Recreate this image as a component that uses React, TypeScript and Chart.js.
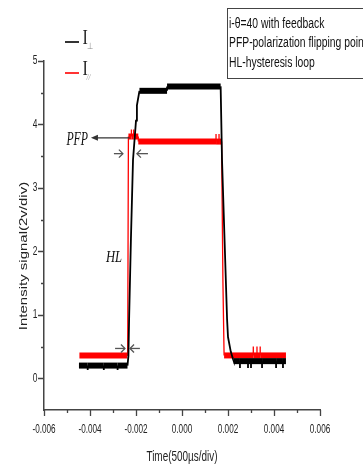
import { useEffect, useRef } from "react";
import { Chart, registerables } from "chart.js";

Chart.register(...registerables);

// Axis ticks
const xTicks = [-0.006, -0.004, -0.002, 0, 0.002, 0.004, 0.006];
const xTickLabels = ["-0.006", "-0.004", "-0.002", "0.000", "0.002", "0.004", "0.006"];
const xMinorTicks = [-0.005, -0.003, -0.001, 0.001, 0.003, 0.005];
const yTicks = [0, 1, 2, 3, 4, 5];
const yTickLabels = ["0", "1", "2", "3", "4", "5"];
const yMinorTicks = [0.5, 1.5, 2.5, 3.5, 4.5];

// I⊥ trace (time in s, signal in 2 V/div)
const perpTime = [
  -0.00448, -0.0041, -0.0041, -0.0041, -0.0034, -0.0034, -0.0034, -0.0028, -0.0028, -0.0028,
  -0.00237, -0.00233, -0.0023, -0.00222, -0.00213, -0.002, -0.00196, -0.00185,
  -0.00065, -0.00065, 0.00168,
  0.00174, 0.00196, 0.002, 0.00212, 0.00222, 0.00225,
  0.00252, 0.00252, 0.00252, 0.00287, 0.00287, 0.00287, 0.003, 0.003, 0.003,
  0.00348, 0.00348, 0.00348, 0.00409, 0.00409, 0.00409, 0.00439, 0.00439, 0.00439, 0.00452,
];
const perpSignal = [
  0.2, 0.2, 0.13, 0.2, 0.2, 0.13, 0.2, 0.2, 0.13, 0.2,
  0.2, 0.35, 0.93, 2.2, 3.44, 4.06, 4.3, 4.53,
  4.53, 4.6, 4.6,
  3.44, 0.93, 0.65, 0.42, 0.3, 0.27,
  0.27, 0.16, 0.27, 0.27, 0.16, 0.27, 0.27, 0.16, 0.27,
  0.27, 0.16, 0.27, 0.27, 0.16, 0.27, 0.27, 0.16, 0.27, 0.27,
];

// I// trace
const parTime = [
  -0.00446, -0.00238, -0.00236, -0.00233,
  -0.0022, -0.0022, -0.0022, -0.0021, -0.0021, -0.0021, -0.0019, -0.0019,
  0.00148, 0.00148, 0.00148, 0.00161, 0.00161, 0.00161, 0.00172,
  0.00178, 0.00183,
  0.0031, 0.0031, 0.0031, 0.00326, 0.00326, 0.00326, 0.0034, 0.0034, 0.0034, 0.00452,
];
const parSignal = [
  0.36, 0.36, 0.5, 3.81,
  3.81, 3.92, 3.81, 3.81, 3.92, 3.81, 3.81, 3.73,
  3.73, 3.85, 3.73, 3.73, 3.85, 3.73, 3.73,
  1.5, 0.36,
  0.36, 0.5, 0.36, 0.36, 0.5, 0.36, 0.36, 0.5, 0.36, 0.36,
];

const infoLines = [
  "i-\u03B8=40 with feedback",
  "PFP-polarization flipping point",
  "HL-hysteresis loop",
];

const toPoints = (t: number[], v: number[]) => t.map((x, i) => ({ x, y: v[i] }));

// flat stretches are drawn as a thick noisy band, transitions and spikes as thin strokes
const bandWidth = (thick: number, thin: number) => (ctx: any) =>
  Math.abs(ctx.p0.parsed.y - ctx.p1.parsed.y) < 1e-9 ? thick : thin;

function squeezed(
  ctx: CanvasRenderingContext2D,
  text: string,
  x: number,
  y: number,
  font: string,
  sx: number,
  align: CanvasTextAlign,
  color: string
) {
  ctx.save();
  ctx.font = font;
  ctx.fillStyle = color;
  ctx.textAlign = align;
  ctx.textBaseline = "middle";
  ctx.translate(x, y);
  ctx.scale(sx, 1);
  ctx.fillText(text, 0, 0);
  ctx.restore();
}

function arrowLine(
  ctx: CanvasRenderingContext2D,
  x0: number,
  x1: number,
  y: number,
  color: string,
  filled: boolean
) {
  const dir = Math.sign(x1 - x0);
  ctx.save();
  ctx.strokeStyle = color;
  ctx.fillStyle = color;
  ctx.lineWidth = 1.3;
  ctx.beginPath();
  ctx.moveTo(x0, y);
  ctx.lineTo(x1 - (filled ? dir * 4 : 0), y);
  ctx.stroke();
  ctx.beginPath();
  if (filled) {
    ctx.moveTo(x1, y);
    ctx.lineTo(x1 - dir * 7, y - 3);
    ctx.lineTo(x1 - dir * 7, y + 3);
    ctx.closePath();
    ctx.fill();
  } else {
    ctx.moveTo(x1 - dir * 4, y - 4);
    ctx.lineTo(x1, y);
    ctx.lineTo(x1 - dir * 4, y + 4);
    ctx.stroke();
  }
  ctx.restore();
}

const decorations = {
  id: "decorations",
  afterDraw(chart: any) {
    const { ctx, scales } = chart;
    const xs = scales.x;
    const ys = scales.y;
    const left = chart.chartArea.left;
    const bottom = chart.chartArea.bottom;
    const axisColor = "#444";
    const sans = "'Liberation Sans', Arial, sans-serif";
    const serif = "'Liberation Serif', 'Times New Roman', serif";

    // tick marks
    ctx.save();
    ctx.strokeStyle = axisColor;
    ctx.lineWidth = 1.3;
    ctx.beginPath();
    xTicks.forEach((v) => {
      const px = Math.round(xs.getPixelForValue(v)) + 0.5;
      ctx.moveTo(px, bottom);
      ctx.lineTo(px, bottom + 6);
    });
    xMinorTicks.forEach((v) => {
      const px = Math.round(xs.getPixelForValue(v)) + 0.5;
      ctx.moveTo(px, bottom);
      ctx.lineTo(px, bottom + 3);
    });
    yTicks.forEach((v) => {
      const py = Math.round(ys.getPixelForValue(v)) + 0.5;
      ctx.moveTo(left, py);
      ctx.lineTo(left - 6, py);
    });
    yMinorTicks.forEach((v) => {
      const py = Math.round(ys.getPixelForValue(v)) + 0.5;
      ctx.moveTo(left, py);
      ctx.lineTo(left - 3, py);
    });
    ctx.stroke();
    ctx.restore();

    // tick labels
    xTicks.forEach((v, i) => {
      squeezed(ctx, xTickLabels[i], xs.getPixelForValue(v), 430, `12px ${sans}`, 0.68, "center", "#222");
    });
    yTicks.forEach((v, i) => {
      squeezed(ctx, yTickLabels[i], 37.5, ys.getPixelForValue(v), `12px ${sans}`, 0.7, "right", "#222");
    });

    // axis titles
    squeezed(ctx, "Time(500\u00B5s/div)", 182, 457, `14px ${sans}`, 0.71, "center", "#222");
    ctx.save();
    ctx.translate(24, 256);
    ctx.rotate(-Math.PI / 2);
    ctx.scale(1, 0.72);
    ctx.font = `15px ${sans}`;
    ctx.fillStyle = "#222";
    ctx.textAlign = "center";
    ctx.textBaseline = "middle";
    ctx.fillText("Intensity signal(2v/div)", 0, 0);
    ctx.restore();

    // legend
    ctx.save();
    ctx.lineWidth = 1.6;
    ctx.strokeStyle = "#000";
    ctx.beginPath();
    ctx.moveTo(65, 42);
    ctx.lineTo(79, 42);
    ctx.stroke();
    ctx.strokeStyle = "#ff0000";
    ctx.beginPath();
    ctx.moveTo(65, 73);
    ctx.lineTo(79, 73);
    ctx.stroke();
    ctx.restore();
    squeezed(ctx, "I", 82.5, 38.5, `20px ${serif}`, 0.8, "left", "#222");
    squeezed(ctx, "\u22A5", 86.5, 47, `9px ${serif}`, 0.8, "left", "#888");
    squeezed(ctx, "I", 82.5, 69.5, `20px ${serif}`, 0.8, "left", "#222");
    squeezed(ctx, "//", 86.5, 78, `italic 9px ${serif}`, 0.8, "left", "#999");

    // info box
    ctx.save();
    ctx.strokeStyle = "#444";
    ctx.lineWidth = 1;
    ctx.strokeRect(227.5, 8.5, 160, 70);
    ctx.restore();
    infoLines.forEach((line, i) => {
      squeezed(ctx, line, 229, 24 + i * 19.5, `14px ${sans}`, 0.74, "left", "#111");
    });

    // PFP marker
    const yPfp = ys.getPixelForValue(3.79);
    arrowLine(ctx, xs.getPixelForValue(-0.00228), xs.getPixelForValue(-0.00396), yPfp, "#333", true);
    squeezed(ctx, "PFP", 88, 140, `italic 19px ${serif}`, 0.62, "right", "#111");

    // width markers at the top and bottom of the rising edge
    const yTop = ys.getPixelForValue(3.54);
    arrowLine(ctx, xs.getPixelForValue(-0.00296), xs.getPixelForValue(-0.00257), yTop, "#555", false);
    arrowLine(ctx, xs.getPixelForValue(-0.00148), xs.getPixelForValue(-0.00196), yTop, "#555", false);
    const yBot = ys.getPixelForValue(0.47);
    arrowLine(ctx, xs.getPixelForValue(-0.00291), xs.getPixelForValue(-0.00248), yBot, "#555", false);
    arrowLine(ctx, xs.getPixelForValue(-0.00183), xs.getPixelForValue(-0.00226), yBot, "#555", false);

    squeezed(ctx, "HL", 106, 257.5, `italic 17px ${serif}`, 0.74, "left", "#111");
  },
};

export default function App() {
  const canvasRef = useRef<HTMLCanvasElement | null>(null);

  useEffect(() => {
    if (!canvasRef.current) return;
    const chart = new Chart(canvasRef.current, {
      type: "scatter",
      data: {
        datasets: [
          {
            label: "I\u22A5",
            data: toPoints(perpTime, perpSignal),
            showLine: true,
            borderColor: "#000000",
            borderWidth: 1.8,
            pointRadius: 0,
            segment: { borderWidth: bandWidth(6, 1.8) },
          },
          {
            label: "I//",
            data: toPoints(parTime, parSignal),
            showLine: true,
            borderColor: "#ff0000",
            borderWidth: 1.3,
            pointRadius: 0,
            segment: { borderWidth: bandWidth(6, 1.3) },
          },
        ],
      },
      options: {
        animation: false,
        responsive: false,
        devicePixelRatio: 1,
        layout: { padding: { top: 61, right: 43, left: 0, bottom: 0 } },
        plugins: { legend: { display: false }, tooltip: { enabled: false } },
        elements: { line: { tension: 0, borderCapStyle: "butt", borderJoinStyle: "miter" } },
        scales: {
          x: {
            type: "linear",
            min: -0.006,
            max: 0.006,
            grid: { display: false },
            border: { display: true, color: "#444", width: 1.5 },
            ticks: { display: false },
            afterFit: (s: any) => {
              s.height = 56;
            },
          },
          y: {
            type: "linear",
            min: -0.5,
            max: 5,
            grid: { display: false },
            border: { display: true, color: "#444", width: 1.5 },
            ticks: { display: false },
            afterFit: (s: any) => {
              s.width = 44;
            },
          },
        },
      },
      plugins: [decorations],
    } as any);
    return () => chart.destroy();
  }, []);

  return (
    <div style={{ position: "absolute", left: 0, top: 0, width: 363, height: 466, background: "#fff" }}>
      <canvas ref={canvasRef} width={363} height={466} />
    </div>
  );
}
